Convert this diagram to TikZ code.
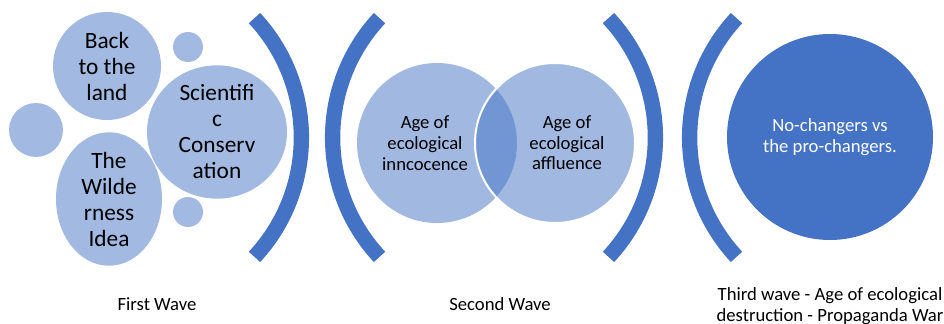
\documentclass[tikz,border=0pt]{standalone}
\usepackage{fontspec}
\setmainfont{Carlito}
\usetikzlibrary{shapes.geometric}

\begin{document}
\begin{tikzpicture}[x=0.75pt, y=-0.75pt, every node/.style={inner sep=0pt}]
  \definecolor{wavecol}{RGB}{68,114,196} \definecolor{bubcol}{RGB}{162,185,226}
  \tikzstyle{wave}=[draw=wavecol, line width=11.5pt]
  \tikzstyle{bubble}=[fill=bubcol, align=center, font=\fontsize{17.5}{19.5}\selectfont]
  \tikzstyle{venn}=[circle, fill=wavecol, fill opacity=0.5, minimum size=120pt]
  \tikzstyle{venntext}=[align=center, text opacity=1, fill opacity=1, font=\fontsize{14}{15.5}\selectfont]
  \tikzstyle{caption}=[align=center, font=\fontsize{14}{15.5}\selectfont]
  \useasboundingbox (0,0) rectangle (944,324);
  % first wave
  \node[bubble, circle, minimum size=81pt] (back) at (107,66) {Back\\to the\\land};
  \node[bubble, ellipse, minimum width=105pt, minimum height=82pt] (sci) at (217,132) {Scientifi\\c\\Conserv\\ation};
  \node[bubble, ellipse, minimum width=79.5pt, minimum height=94pt] (wild) at (109,199) {The\\Wilde\\rness\\Idea};
  \node[bubble, circle, minimum size=40.5pt] (dotA) at (36,130) {};
  \foreach \y/\n in {47/B, 212/C} {
    \node[bubble, circle, minimum size=22.5pt] (dot\n) at (188,\y) {};
  }
  % brackets
  \foreach \cx/\a in {126/0, 508/180, 480/0, 865/180} {
    \draw[wave] (\cx,137.5) ++(\a-42.9:175.4) arc[start angle=\a-42.9, end angle=\a+42.9, radius=175.4];
  }
  % second wave
  \node[venn] (innocence) at (437,143) {};
  \node[venn, draw=white, line width=1.5pt] (affluence) at (555,143) {};
  \node[venntext] (innocencetxt) at ([xshift=-9pt]innocence.center) {Age of\\ecological\\inncocence};
  \node[venntext] (affluencetxt) at ([xshift=9pt]affluence.center) {Age of\\ecological\\affluence};
  % third wave
  \node[circle, fill=wavecol, minimum size=154.5pt, align=center, text=white, font=\fontsize{14}{15.5}\selectfont] (nochange) at (830,137) {No-changers vs\\the pro-changers.};
  % captions
  \node[caption] (wave1) at (157,304) {First Wave};
  \node[caption] (wave2) at (500,304) {Second Wave};
  \node[caption] (wave3) at (830,306) {Third wave - Age of ecological\\destruction - Propaganda War};
\end{tikzpicture}
\end{document}
